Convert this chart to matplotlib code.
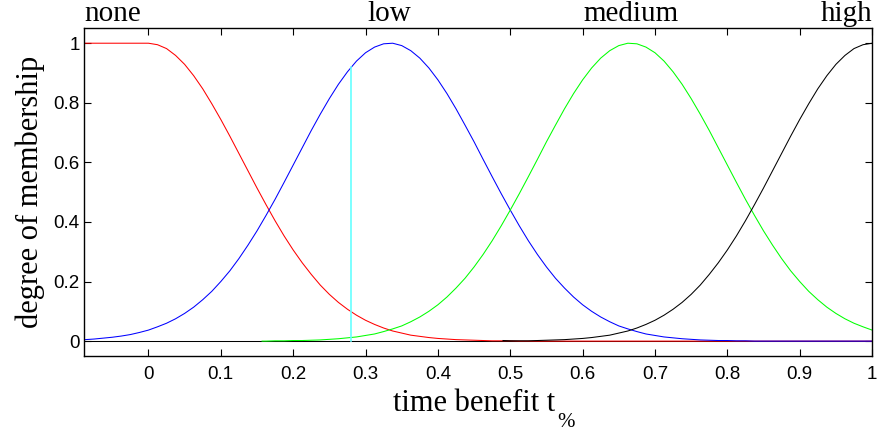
import numpy as np
import matplotlib
matplotlib.use("Agg")
import matplotlib.pyplot as plt

# =========================
# Data (read off the reference), sampled every 0.0125
# =========================
x_grid = np.linspace(-0.1, 1.0, 89)

mu_none = [1, 1, 1, 1, 1, 1, 1, 1, 1,
           0.995, 0.982, 0.959, 0.929, 0.891, 0.847, 0.797, 0.744, 0.688, 0.630,
           0.572, 0.514, 0.458, 0.404, 0.353, 0.306, 0.263, 0.224, 0.188, 0.157,
           0.130, 0.107, 0.087, 0.070, 0.056, 0.044, 0.034, 0.027, 0.020, 0.016,
           0.012, 0.009, 0.007, 0.005, 0.004, 0.003, 0.002, 0.001, 0.001, 0.001,
           0, 0, 0, 0, 0, 0, 0, 0, 0, 0,
           0, 0, 0, 0, 0, 0, 0, 0, 0, 0,
           0, 0, 0, 0, 0, 0, 0, 0, 0, 0,
           0, 0, 0, 0, 0, 0, 0, 0, 0, 0]

mu_low = [0.004, 0.005, 0.007, 0.010, 0.013, 0.017, 0.022, 0.029, 0.037, 0.048,
          0.060, 0.075, 0.093, 0.114, 0.139, 0.167, 0.200, 0.236, 0.277, 0.322,
          0.370, 0.422, 0.476, 0.533, 0.591, 0.649, 0.707, 0.762, 0.814, 0.862,
          0.904, 0.940, 0.968, 0.987, 0.998, 1.000, 0.992, 0.975, 0.950, 0.917,
          0.877, 0.831, 0.780, 0.725, 0.669, 0.610, 0.552, 0.495, 0.440, 0.387,
          0.337, 0.291, 0.249, 0.211, 0.178, 0.148, 0.122, 0.100, 0.081, 0.065,
          0.051, 0.041, 0.032, 0.024, 0.019, 0.014, 0.011, 0.008, 0.006, 0.004,
          0.003, 0.002, 0.002, 0.001, 0.001,
          0, 0, 0, 0, 0, 0, 0, 0, 0, 0, 0, 0, 0, 0]

x_medium = [0.157] + list(np.linspace(0.1625, 1.0, 68))
mu_medium = [0.0,
             0.0, 0.001, 0.001, 0.002, 0.002, 0.003, 0.004, 0.006, 0.008, 0.011,
             0.014, 0.019, 0.024, 0.032, 0.041, 0.051, 0.065, 0.081, 0.100, 0.122,
             0.148, 0.178, 0.211, 0.249, 0.291, 0.337, 0.387, 0.440, 0.495, 0.552,
             0.610, 0.669, 0.725, 0.780, 0.831, 0.877, 0.917, 0.950, 0.975, 0.992,
             1.000, 0.998, 0.987, 0.968, 0.940, 0.904, 0.862, 0.814, 0.762, 0.707,
             0.649, 0.591, 0.533, 0.476, 0.422, 0.370, 0.322, 0.277, 0.236, 0.200,
             0.167, 0.139, 0.114, 0.093, 0.075, 0.060, 0.048, 0.037]

x_high = [0.49] + list(np.linspace(0.5, 1.0, 41))
mu_high = [0.002,
           0.001, 0.001, 0.001, 0.002, 0.003, 0.004, 0.005, 0.007, 0.009, 0.012,
           0.016, 0.020, 0.027, 0.034, 0.044, 0.056, 0.070, 0.087, 0.107, 0.130,
           0.157, 0.188, 0.224, 0.263, 0.306, 0.353, 0.404, 0.458, 0.514, 0.572,
           0.630, 0.688, 0.744, 0.797, 0.847, 0.891, 0.929, 0.959, 0.982, 0.995,
           1.0]

# current input marker
x_input = 0.28
mu_input = 0.92

set_names = ["none", "low", "medium", "high"]
set_pos = [-0.089, 1 / 3, 2 / 3, 1.0]
set_align = ["left", "center", "center", "right"]

# =========================
# Plot
# =========================
serif = "Liberation Serif"
sans = "Liberation Sans"

fig = plt.figure(figsize=(8.8, 4.33), dpi=100)
ax = fig.add_axes([0.0955, 0.1778, 0.8955, 0.7568])

lw = 0.75
ax.plot([-0.1, 1.0], [0, 0], color="k", linewidth=lw)
ax.plot(x_grid, mu_none, color="#ff0000", linewidth=lw)
ax.plot(x_grid, mu_low, color="#0000ff", linewidth=lw)
ax.plot(x_medium, mu_medium, color="#00ff00", linewidth=lw)
ax.plot(x_high, mu_high, color="k", linewidth=lw)
ax.plot([x_input, x_input], [0, mu_input], color="#66ffff", linewidth=1.2)

ax.set_xlim(-0.089, 1.0)
ax.set_ylim(-0.05, 1.05)

ax.set_xticks(np.round(np.arange(0, 1.01, 0.1), 1))
ax.set_xticklabels(["0", "0.1", "0.2", "0.3", "0.4", "0.5", "0.6", "0.7", "0.8", "0.9", "1"])
ax.set_yticks([0, 0.2, 0.4, 0.6, 0.8, 1.0])
ax.set_yticklabels(["0", "0.2", "0.4", "0.6", "0.8", "1"])

ax.tick_params(direction="in", length=5, width=0.8, top=True, right=True,
               labelsize=13.5)
ax.tick_params(axis="x", pad=7)
ax.tick_params(axis="y", pad=3)
for lab in ax.get_xticklabels() + ax.get_yticklabels():
    lab.set_fontfamily(sans)
for sp in ax.spines.values():
    sp.set_linewidth(1.0)

# x label with a low, fairly large "%" subscript as in the original
fig.text(0.6307, 0.0508, "time benefit t", ha="right", va="baseline",
         fontsize=22, fontfamily=serif)
fig.text(0.6330, 0.0139, "%", ha="left", va="baseline",
         fontsize=15, fontfamily=serif)
ax.set_ylabel("degree of membership", fontsize=22, fontfamily=serif, labelpad=6)

for name, xp, ha in zip(set_names, set_pos, set_align):
    ax.text(xp, 1.0745, name, ha=ha, va="baseline", fontsize=21,
            fontfamily=serif, clip_on=False)

fig.savefig("out.png", dpi=100)
